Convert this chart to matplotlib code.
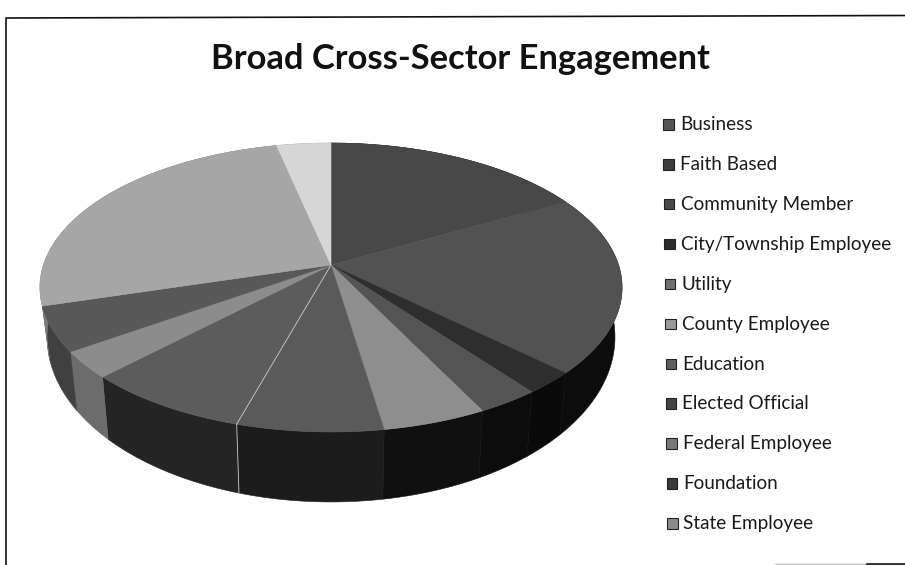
import numpy as np
import matplotlib
matplotlib.use("Agg")
import matplotlib.pyplot as plt
from matplotlib.patches import Polygon, Rectangle

sectors = ["Business", "Faith Based", "Community Member", "City/Township Employee", "Utility",
           "County Employee", "Education", "Elected Official", "Federal Employee", "Foundation", "State Employee"]
# share of the pie in percent
shares = [17, 20, 2.5, 3, 5, 7, 8, 3, 5, 26, 3.5]
top_colors = ["#484848", "#525252", "#2e2e2e", "#545454", "#8e8e8e", "#5a5a5a",
              "#5c5c5c", "#8c8c8c", "#585858", "#a6a6a6", "#d6d6d6"]
side_colors = ["#0c0c0c", "#0c0c0c", "#0a0a0a", "#0c0c0c", "#101010", "#1c1c1c",
               "#242424", "#6c6c6c", "#404040", "#7c7c7c", "#909090"]
legend_colors = ["#555555", "#3c3c3c", "#4a4a4a", "#2c2c2c", "#707070", "#9a9a9a",
                 "#5e5e5e", "#444444", "#787878", "#3a3a3a", "#8a8a8a"]

W, H = 905, 565
fig = plt.figure(figsize=(W/100, H/100), dpi=100)
ax = fig.add_axes([0, 0, 1, 1])
ax.set_xlim(0, W)
ax.set_ylim(H, 0)
ax.axis("off")


# perspective view of the pie disc, angle clockwise from 12 o'clock
def rim(theta, half_w, y0, a, c=-0.1557):
    s = -np.cos(theta)
    return np.column_stack([331 + half_w*np.sin(theta)/(1 + c*s), (y0 + a*s)/(1 + c*s)])


def top_rim(theta):
    return rim(theta, 287.5, 265, 99.7)


def bottom_rim(theta):
    return rim(theta, 280.5, 311.3, 112.5)


edges = np.cumsum([0] + shares) / sum(shares) * 2*np.pi
centre = np.array([[331, 265]])

# sides first, the top faces cover the hidden part
for i in range(len(shares)):
    t = np.linspace(edges[i], edges[i+1], 80)
    pts = np.vstack([top_rim(t), bottom_rim(t)[::-1]])
    ax.add_patch(Polygon(pts, fc=side_colors[i], ec=side_colors[i], lw=0.4))
for i in range(len(shares)):
    t = np.linspace(edges[i], edges[i+1], 80)
    pts = np.vstack([centre, top_rim(t)])
    ax.add_patch(Polygon(pts, fc=top_colors[i], ec=top_colors[i], lw=0.4))

# white seam where County meets Education
seam = edges[6]
p_top = top_rim(np.array([seam]))[0]
p_bot = bottom_rim(np.array([seam]))[0]
ax.plot([331, p_top[0]], [265, p_top[1]], color="#cccccc", lw=0.6)
ax.plot([p_top[0], p_bot[0]], [p_top[1], p_bot[1]], color="#cccccc", lw=0.6)

ax.text(460, 59, "Broad Cross-Sector Engagement", family="Lato", weight="bold", fontsize=24.8,
        ha="center", va="center", color="#111111")

# the scan is slightly skewed, so the legend drifts right going down
for i, name in enumerate(sectors):
    y = 123.1 + i*39.9
    ax.add_patch(Rectangle((663 + i*0.42, y-4), 10.5, 10.5, fc=legend_colors[i], ec="#222222", lw=0.8))
    ax.text(680 + i*0.33, y + 1.5, name, family="Lato", fontsize=13.6, va="center", color="#1a1a1a")

# frame of the scanned chart
ax.plot([905, 6, 6], [15.5, 18, 565], color="#111111", lw=1.2)
ax.plot([775, 867], [564, 564], color="#bbbbbb", lw=1)
ax.plot([867, 905], [564, 564], color="#111111", lw=1.2)

fig.savefig("out.png", dpi=100)
